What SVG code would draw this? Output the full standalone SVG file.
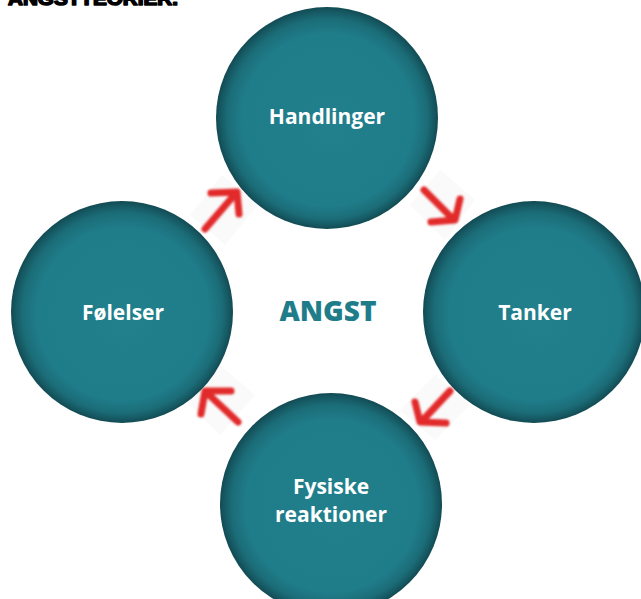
<svg xmlns="http://www.w3.org/2000/svg" width="641" height="599" viewBox="0 0 641 599">
  <style>
    .label { font-family: "Open Sans", "Noto Sans", sans-serif; font-weight: 700; font-size: 21px; fill: #ffffff; text-anchor: middle; }
    .center { font-family: "Open Sans", "Noto Sans", sans-serif; font-weight: 800; font-size: 28px; fill: #1f7d8a; text-anchor: middle; }
    .title { font-family: "Liberation Sans", Arial, sans-serif; font-weight: 700; font-size: 19px; fill: #000000; stroke: #000000; stroke-width: 1.6; stroke-linejoin: round; }
    .arrow { fill: none; stroke: #e2292b; stroke-width: 7; stroke-linecap: round; stroke-linejoin: round; filter: url(#soft); }
    .pad { fill: #fafafa; }
    .disc { fill: url(#discFill); }
  </style>
  <defs>
    <radialGradient id="discFill" cx="50%" cy="50%" r="50%" fx="52%" fy="54%">
      <stop offset="0" stop-color="#21808c"/>
      <stop offset="0.78" stop-color="#1f7c89"/>
      <stop offset="0.9" stop-color="#1b6d78"/>
      <stop offset="0.97" stop-color="#155660"/>
      <stop offset="1" stop-color="#124a52"/>
    </radialGradient>
    <filter id="soft" x="-20%" y="-20%" width="140%" height="140%">
      <feGaussianBlur stdDeviation="1"/>
    </filter>
  </defs>

  <rect width="641" height="599" fill="#ffffff"/>

  <!-- heading, clipped by the top edge -->
  <text class="title" x="8" y="5" textLength="170" lengthAdjust="spacingAndGlyphs">ANGSTTEORIER.</text>

  <!-- arrow backing tiles and arrows -->
  <g id="connectors">
    <polygon class="pad" points="190,215 222,175 258,205 225,245"/>
    <polygon class="pad" points="410,205 440,170 475,200 445,240"/>
    <polygon class="pad" points="400,410 435,375 470,405 435,440"/>
    <polygon class="pad" points="185,400 220,365 255,395 220,435"/>

    <path class="arrow" d="M205,229 L236,193 M211,193 L237,192 L239,214"/>
    <path class="arrow" d="M424,190 L453,219 M431,222 L455,220 L460,199"/>
    <path class="arrow" d="M450,391 L422,421 M415,402 L420,422 L446,423"/>
    <path class="arrow" d="M238,422 L207,393 M231,391 L205,391 L201,414"/>
  </g>

  <g id="handlinger">
    <circle class="disc" cx="327" cy="118" r="111"/>
    <text class="label" x="327" y="124">Handlinger</text>
  </g>

  <g id="tanker">
    <circle class="disc" cx="534" cy="312" r="111"/>
    <text class="label" x="535" y="320">Tanker</text>
  </g>

  <g id="foelelser">
    <circle class="disc" cx="122" cy="312" r="111"/>
    <text class="label" x="123" y="320">Følelser</text>
  </g>

  <g id="fysiske-reaktioner">
    <circle class="disc" cx="331" cy="504" r="111"/>
    <text class="label" x="331" y="494">Fysiske</text>
    <text class="label" x="331" y="522">reaktioner</text>
  </g>

  <g id="angst">
    <text class="center" x="328" y="321">ANGST</text>
  </g>
</svg>
